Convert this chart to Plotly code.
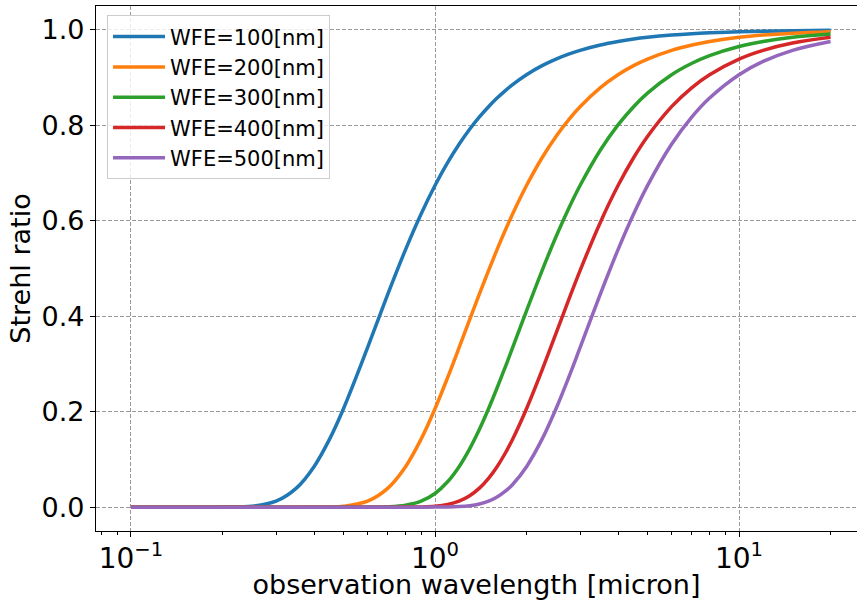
import plotly.graph_objects as go

wavelength = [0.1, 0.15, 0.2, 0.25, 0.3, 0.35, 0.4, 0.45, 0.5, 0.6, 0.7, 0.8, 0.9, 1.0,
              1.1, 1.2, 1.3, 1.4, 1.5, 1.6, 1.7, 1.8, 2.0, 2.25, 2.5, 2.75, 3.0, 3.5, 4.0,
              4.5, 5.0, 6.0, 7.0, 8.0, 10, 12, 15, 20]

strehl_100 = [0, 0, 0.00005, 0.0018, 0.0124, 0.0398, 0.0848, 0.1424, 0.2062, 0.3340, 0.4467,
              0.5396, 0.6142, 0.6738, 0.7216, 0.7602, 0.7917, 0.8176, 0.8390, 0.8571, 0.8723,
              0.8853, 0.9060, 0.9250, 0.9388, 0.9491, 0.9571, 0.9683, 0.9756, 0.9807, 0.9843,
              0.9891, 0.9920, 0.9938, 0.9961, 0.9973, 0.9983, 0.9990]
strehl_200 = [0, 0, 0, 0, 0, 0, 0.00005, 0.0004, 0.0018, 0.0124, 0.0399, 0.0848, 0.1424,
              0.2062, 0.2712, 0.3340, 0.3929, 0.4468, 0.4957, 0.5397, 0.5791, 0.6143, 0.6738,
              0.7321, 0.7768, 0.8116, 0.8391, 0.8791, 0.9060, 0.9250, 0.9388, 0.9571, 0.9683,
              0.9756, 0.9843, 0.9891, 0.9930, 0.9961]
strehl_300 = [0, 0, 0, 0, 0, 0, 0, 0, 0, 0.00005, 0.0007, 0.0039, 0.0124, 0.0286, 0.0531,
              0.0848, 0.1222, 0.1632, 0.2062, 0.2496, 0.2925, 0.3340, 0.4114, 0.4957, 0.5664,
              0.6251, 0.6738, 0.7482, 0.8008, 0.8390, 0.8675, 0.9060, 0.9300, 0.9460, 0.9651,
              0.9756, 0.9843, 0.9912]
strehl_400 = [0, 0, 0, 0, 0, 0, 0, 0, 0, 0, 0, 0.00005, 0.0004, 0.0018, 0.0054, 0.0124,
              0.0238, 0.0398, 0.0603, 0.0848, 0.1124, 0.1424, 0.2062, 0.2871, 0.3640, 0.4337,
              0.4956, 0.5971, 0.6738, 0.7321, 0.7767, 0.8391, 0.8791, 0.9060, 0.9388, 0.9571,
              0.9723, 0.9843]
strehl_500 = [0, 0, 0, 0, 0, 0, 0, 0, 0, 0, 0, 0, 0, 0.00005, 0.0003, 0.0011, 0.0029,
              0.0065, 0.0124, 0.0212, 0.0329, 0.0475, 0.0848, 0.1424, 0.2062, 0.2711, 0.3340,
              0.4468, 0.5396, 0.6142, 0.6738, 0.7602, 0.8176, 0.8571, 0.9060, 0.9338, 0.9571,
              0.9756]

series_names = ["WFE=100[nm]", "WFE=200[nm]", "WFE=300[nm]", "WFE=400[nm]", "WFE=500[nm]"]
series_values = [strehl_100, strehl_200, strehl_300, strehl_400, strehl_500]
colors = ["#1f77b4", "#ff7f0e", "#2ca02c", "#d62728", "#9467bd"]

x_tickvals = [0.1, 1, 10]
x_ticktext = ["10<sup>\u22121</sup>", "10<sup>0</sup>", "10<sup>1</sup>"]
y_tickvals = [0.0, 0.2, 0.4, 0.6, 0.8, 1.0]
y_ticktext = ["0.0", "0.2", "0.4", "0.6", "0.8", "1.0"]

fig = go.Figure()
for name, vals, col in zip(series_names, series_values, colors):
    fig.add_trace(go.Scatter(x=wavelength, y=vals, mode="lines", name=name,
                             line=dict(color=col, width=3.5, shape="spline", smoothing=1.0)))

font_family = "DejaVu Sans"
grid_dash = "4px,2px"
fig.update_layout(
    width=857, height=600,
    margin=dict(l=96, r=0, t=6, b=69),
    paper_bgcolor="white", plot_bgcolor="white",
    font=dict(family=font_family, color="black"),
    showlegend=True,
    legend=dict(x=0.0145, y=0.982, xanchor="left", yanchor="top",
                bgcolor="rgba(255,255,255,0.8)", bordercolor="#cccccc", borderwidth=1,
                font=dict(size=21, family=font_family), tracegroupgap=0, itemwidth=52),
    xaxis=dict(type="log", range=[-1.115, 1.388], automargin=False,
               tickvals=x_tickvals, ticktext=x_ticktext,
               tickfont=dict(size=28), ticks="outside", ticklen=5, tickwidth=1.2,
               tickcolor="black", showline=True, linecolor="black", linewidth=1.2,
               mirror=True, showgrid=True, gridcolor="#999999", griddash=grid_dash,
               gridwidth=1, zeroline=False, ticklabelstandoff=-3,
               minor=dict(ticks="outside", ticklen=3, tickcolor="black", dtick="D1",
                          showgrid=False),
               title=dict(text="observation wavelength [micron]", font=dict(size=27),
                          standoff=4)),
    yaxis=dict(range=[-0.05, 1.05], tickvals=y_tickvals, ticktext=y_ticktext,
               automargin=False,
               tickfont=dict(size=27), ticks="outside", ticklen=5, tickwidth=1.2,
               tickcolor="black", showline=True, linecolor="black", linewidth=1.2,
               mirror=False, showgrid=True, gridcolor="#999999", griddash=grid_dash,
               gridwidth=1, zeroline=False,
               title=dict(text="Strehl ratio", font=dict(size=27), standoff=3)),
)

fig.write_html("out.html", config={"displayModeBar": False},
               post_script="document.body.style.margin='0';document.body.style.overflow='hidden';")
